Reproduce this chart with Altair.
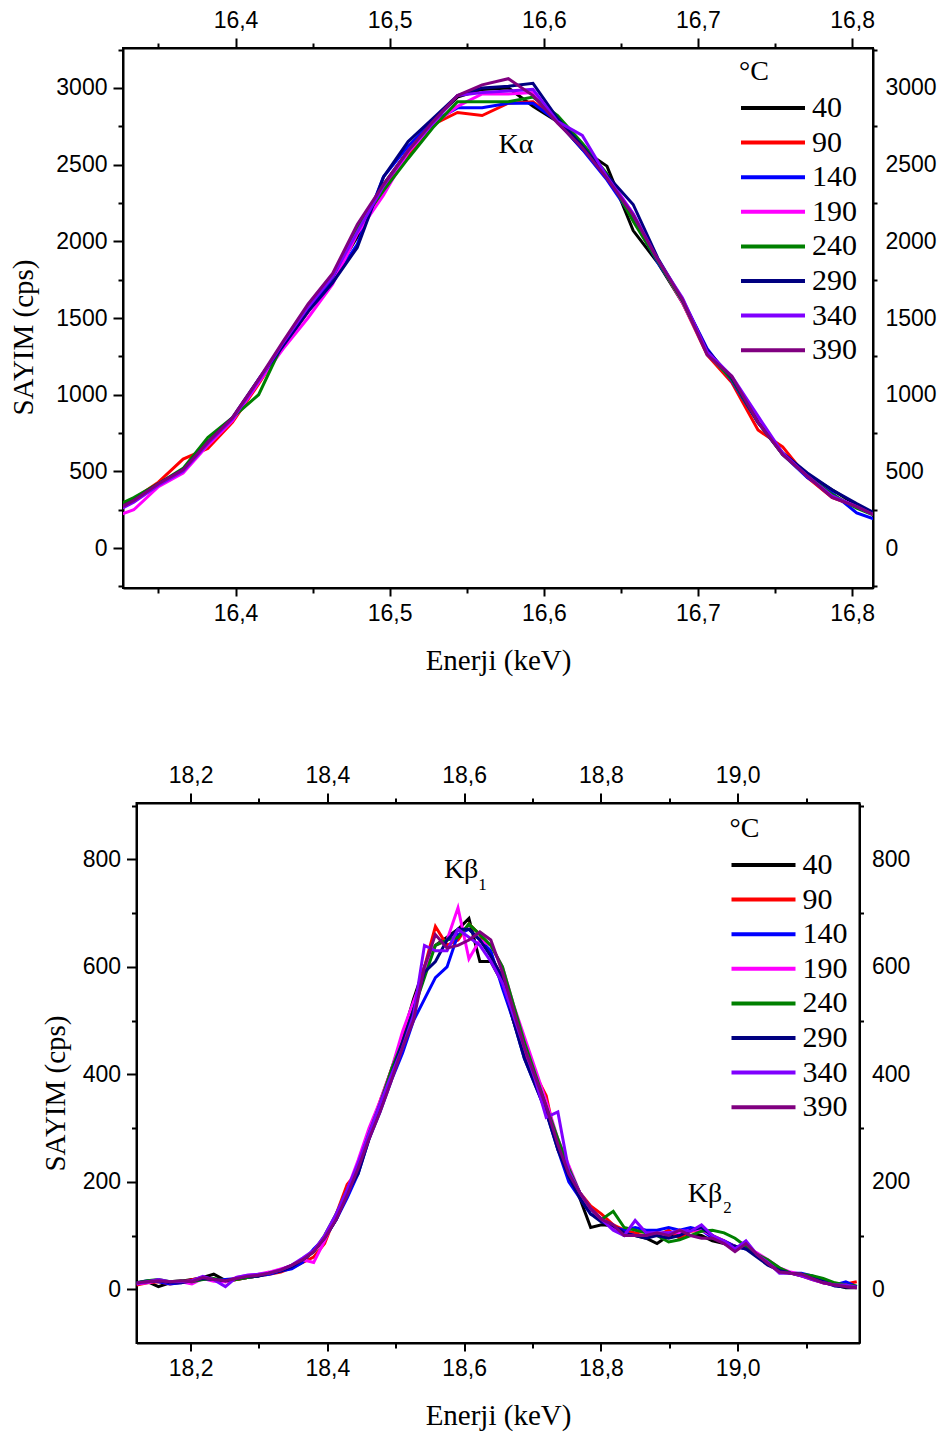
import altair as alt
import pandas as pd

TEMPS = ["40", "90", "140", "190", "240", "290", "340", "390"]
COLORS = ["#000000", "#FF0000", "#0000FF", "#FF00FF", "#008000", "#000080", "#8000FF", "#800080"]

# ---------------- K-alpha panel ----------------
KA_E = [16.317, 16.334, 16.350, 16.366, 16.382, 16.398, 16.415, 16.431, 16.447, 16.463,
        16.479, 16.496, 16.512, 16.528, 16.544, 16.560, 16.577, 16.593, 16.609, 16.625,
        16.641, 16.658, 16.674, 16.690, 16.706, 16.722, 16.739, 16.755, 16.771, 16.787,
        16.803, 16.820]
KA_40 = [210, 320, 420, 510, 690, 840, 1090, 1330, 1550, 1760, 2030, 2370, 2590, 2780, 2940, 2990, 3000, 2880, 2780, 2600,
         2490, 2070, 1860, 1600, 1280, 1090, 830, 610, 480, 380, 280, 200]
KA_90 = [220, 320, 430, 580, 650, 820, 1070, 1320, 1540, 1780, 2060, 2340, 2560, 2760, 2840, 2820, 2900, 2910, 2790, 2610,
         2420, 2170, 1880, 1600, 1260, 1080, 770, 660, 460, 330, 270, 200]
KA_140 = [220, 310, 410, 500, 690, 840, 1100, 1330, 1560, 1740, 1980, 2420, 2620, 2780, 2870, 2870, 2900, 2900, 2780, 2600,
          2400, 2150, 1860, 1620, 1300, 1090, 820, 610, 460, 360, 230, 170]
KA_190 = [190, 250, 400, 490, 670, 830, 1080, 1300, 1500, 1720, 2050, 2300, 2580, 2760, 2880, 2960, 2960, 2970, 2790, 2630,
          2430, 2180, 1880, 1600, 1270, 1100, 830, 610, 470, 340, 270, 190]
KA_240 = [250, 330, 420, 520, 720, 850, 1000, 1340, 1580, 1770, 2090, 2330, 2540, 2740, 2910, 2910, 2910, 2940, 2820, 2640,
          2440, 2130, 1870, 1610, 1270, 1100, 820, 610, 470, 350, 260, 190]
KA_290 = [220, 310, 420, 510, 690, 850, 1100, 1320, 1540, 1730, 1960, 2420, 2650, 2800, 2950, 3000, 3010, 3030, 2800, 2620,
          2430, 2240, 1890, 1620, 1290, 1110, 820, 620, 490, 380, 290, 200]
KA_340 = [210, 300, 410, 500, 680, 840, 1090, 1340, 1570, 1770, 2060, 2360, 2590, 2770, 2950, 2970, 2980, 2990, 2780, 2690,
          2420, 2180, 1880, 1630, 1280, 1120, 860, 620, 470, 340, 270, 190]
KA_390 = [220, 310, 420, 510, 690, 850, 1100, 1350, 1590, 1790, 2110, 2370, 2590, 2780, 2950, 3020, 3060, 2950, 2770, 2610,
          2410, 2170, 1880, 1620, 1260, 1120, 820, 610, 470, 330, 270, 190]
KA_SERIES = [KA_40, KA_90, KA_140, KA_190, KA_240, KA_290, KA_340, KA_390]

# ---------------- K-beta panel ----------------
KB_E = [18.121, 18.137, 18.153, 18.170, 18.186, 18.202, 18.218, 18.234, 18.251, 18.267,
        18.283, 18.299, 18.315, 18.332, 18.348, 18.364, 18.380, 18.396, 18.413, 18.429,
        18.445, 18.461, 18.477, 18.494, 18.510, 18.526, 18.542, 18.558, 18.575, 18.591,
        18.607, 18.623, 18.639, 18.656, 18.672, 18.688, 18.704, 18.720, 18.737, 18.753,
        18.769, 18.785, 18.801, 18.818, 18.834, 18.850, 18.866, 18.882, 18.899, 18.915,
        18.931, 18.947, 18.963, 18.980, 18.996, 19.012, 19.028, 19.044, 19.061, 19.077,
        19.093, 19.109, 19.125, 19.142, 19.158, 19.174]
KB_40 = [10, 14, 5, 12, 15, 18, 22, 28, 16, 18,
         22, 25, 30, 36, 44, 55, 70, 95, 130, 175,
         220, 290, 345, 410, 470, 540, 600, 640, 655, 670,
         690, 610, 610, 570, 500, 440, 390, 330, 270, 220,
         170, 115, 120, 118, 100, 100, 95, 85, 100, 105,
         100, 100, 90, 85, 80, 78, 65, 50, 35, 30,
         25, 20, 15, 8, 3, 3]
KB_90 = [8, 12, 14, 10, 13, 18, 22, 18, 14, 18,
         22, 25, 28, 32, 40, 50, 60, 85, 140, 195,
         220, 290, 350, 410, 470, 530, 600, 675, 640, 650,
         680, 660, 620, 580, 500, 440, 400, 360, 260, 220,
         180, 155, 140, 120, 110, 105, 108, 100, 110, 95,
         108, 110, 100, 90, 80, 78, 65, 50, 35, 30,
         25, 18, 12, 8, 10, 14]
KB_140 = [12, 16, 14, 10, 12, 15, 20, 18, 18, 20,
          22, 25, 28, 34, 38, 50, 75, 95, 130, 170,
          215, 280, 330, 390, 440, 500, 540, 580, 600, 660,
          670, 650, 630, 560, 500, 430, 380, 330, 260, 200,
          170, 140, 130, 115, 110, 115, 110, 110, 115, 110,
          115, 110, 95, 90, 80, 75, 65, 50, 35, 30,
          30, 25, 15, 8, 14, 5]
KB_190 = [10, 12, 16, 12, 14, 10, 20, 15, 14, 22,
          26, 28, 32, 38, 44, 55, 50, 90, 140, 185,
          240, 300, 350, 410, 480, 535, 590, 640, 650, 710,
          615, 650, 640, 600, 530, 470, 410, 350, 280, 230,
          180, 150, 130, 115, 105, 100, 100, 100, 105, 105,
          110, 110, 100, 85, 80, 78, 68, 55, 40, 32,
          28, 20, 12, 8, 5, 3]
KB_240 = [12, 16, 18, 14, 16, 14, 18, 20, 16, 18,
          22, 25, 30, 35, 44, 55, 70, 100, 140, 185,
          230, 290, 345, 410, 460, 520, 580, 640, 650, 655,
          680, 660, 640, 600, 530, 460, 400, 340, 280, 225,
          180, 150, 130, 145, 115, 110, 105, 100, 88, 92,
          100, 108, 110, 105, 95, 80, 65, 55, 40, 30,
          28, 25, 20, 12, 8, 6]
KB_290 = [12, 14, 16, 12, 12, 16, 20, 18, 16, 20,
          24, 24, 30, 34, 42, 55, 72, 95, 130, 180,
          215, 280, 340, 400, 460, 520, 590, 610, 650, 670,
          670, 650, 620, 580, 500, 430, 380, 330, 260, 210,
          170, 140, 125, 118, 105, 100, 95, 100, 95, 100,
          110, 115, 100, 85, 80, 75, 60, 45, 35, 30,
          28, 20, 14, 6, 4, 4]
KB_340 = [10, 14, 18, 14, 14, 16, 24, 18, 5, 22,
          26, 28, 30, 36, 45, 58, 72, 100, 140, 185,
          235, 290, 345, 400, 450, 510, 640, 630, 630, 670,
          655, 640, 610, 570, 510, 450, 390, 320, 330, 220,
          180, 150, 130, 110, 100, 128, 105, 105, 105, 110,
          108, 120, 100, 90, 75, 90, 65, 50, 30, 30,
          25, 18, 12, 8, 8, 4]
KB_390 = [12, 14, 16, 14, 16, 14, 22, 18, 16, 20,
          24, 26, 30, 36, 45, 55, 70, 95, 130, 175,
          225, 280, 330, 390, 450, 500, 600, 660, 635, 640,
          650, 665, 650, 590, 520, 450, 395, 340, 270, 215,
          180, 150, 130, 120, 100, 100, 100, 105, 100, 110,
          100, 95, 95, 85, 70, 85, 65, 48, 32, 30,
          28, 20, 12, 8, 5, 3]
KB_SERIES = [KB_40, KB_90, KB_140, KB_190, KB_240, KB_290, KB_340, KB_390]

# tick values
KA_XTICKS = [16.35, 16.4, 16.45, 16.5, 16.55, 16.6, 16.65, 16.7, 16.75, 16.8]
KA_YTICKS = [-250, 0, 250, 500, 750, 1000, 1250, 1500, 1750, 2000, 2250, 2500, 2750, 3000, 3250]
KB_XTICKS = [18.2, 18.3, 18.4, 18.5, 18.6, 18.7, 18.8, 18.9, 19.0, 19.1]
KB_YTICKS = [0, 100, 200, 300, 400, 500, 600, 700, 800, 900]

# annotations
KA_ANN = {"E": [16.582], "C": [2629], "t": ["Kα"]}
KA_SUB = {"E": [], "C": [], "t": []}
KB_ANN = {"E": [18.5956, 18.952], "C": [781, 177], "t": ["Kβ", "Kβ"]}
KB_SUB = {"E": [18.627, 18.985], "C": [752, 152], "t": ["1", "2"]}


def long_df(energies, series):
    rows = []
    for t, vals in zip(TEMPS, series):
        for e, v in zip(energies, vals):
            rows.append({"E": e, "C": v, "T": t})
    return pd.DataFrame(rows)


SERIF = "Liberation Serif"
SANS = "Liberation Sans"


def panel(df, ann, sub, xdom, ydom, xvals, xstep, yvals, ystep, w, h, lx, ly, ytitlepad, ytitle_y):
    xs = alt.Scale(domain=xdom, nice=False, zero=False)
    ys = alt.Scale(domain=ydom, nice=False, zero=False)
    xtest = f"abs(datum.value/{xstep} - round(datum.value/{xstep})) < 0.001"
    ytest = f"datum.value % {ystep} == 0"
    xlab = f"({xtest}) ? replace(format(datum.value, '.1f'), '.', ',') : ''"
    ylab = f"({ytest}) ? format(datum.value, 'd') : ''"

    def xaxis(orient, title, big, small, pad):
        return alt.Axis(orient=orient, values=xvals, labelExpr=xlab,
                        tickSize={"condition": {"test": xtest, "value": big}, "value": small},
                        grid=False, labelOverlap=False, labelFlush=False, labelPadding=pad,
                        titlePadding=21, title=title if title else None)

    def yaxis(orient, title, big, small, pad):
        kw = dict(orient=orient, values=yvals, labelExpr=ylab,
                  tickSize={"condition": {"test": ytest, "value": big}, "value": small},
                  grid=False, labelOverlap=False, labelFlush=False, labelPadding=pad,
                  titlePadding=ytitlepad, title=title if title else None)
        if title:
            kw["titleY"] = ytitle_y
        return alt.Axis(**kw)

    lines = alt.Chart(df).mark_line(strokeWidth=3, clip=True).encode(
        x=alt.X("E:Q", scale=xs, axis=xaxis("bottom", "Enerji (keV)", 8, 5, 6)),
        y=alt.Y("C:Q", scale=ys, axis=yaxis("left", "SAYIM (cps)", 10, 5, 6)),
        color=alt.Color(
            "T:N", sort=TEMPS,
            scale=alt.Scale(domain=TEMPS, range=COLORS),
            legend=alt.Legend(
                title="°C", orient="none", legendX=lx, legendY=ly,
                symbolType="stroke", symbolSize=4096, symbolStrokeWidth=4,
                clipHeight=30, rowPadding=4.6, labelOffset=5,
                labelFont=SERIF, labelFontSize=30, labelColor="black",
                titleFont=SERIF, titleFontSize=28, titleFontWeight="normal",
                titleColor="black", titlePadding=7, padding=0,
            ),
        ),
    )
    mirror = alt.Chart(df).mark_point(opacity=0, clip=True).encode(
        x=alt.X("E:Q", scale=xs, axis=xaxis("top", None, 10, 5, 6)),
        y=alt.Y("C:Q", scale=ys, axis=yaxis("right", None, 0, 4, 12)),
    )
    layers = [lines, mirror]
    if ann["E"]:
        layers.append(alt.Chart(pd.DataFrame(ann)).mark_text(
            font=SERIF, fontSize=28, align="center", baseline="middle", color="black"
        ).encode(x=alt.X("E:Q", scale=xs, axis=None), y=alt.Y("C:Q", scale=ys, axis=None), text="t:N"))
    if sub["E"]:
        layers.append(alt.Chart(pd.DataFrame(sub)).mark_text(
            font=SERIF, fontSize=17, align="center", baseline="middle", color="black"
        ).encode(x=alt.X("E:Q", scale=xs, axis=None), y=alt.Y("C:Q", scale=ys, axis=None), text="t:N"))
    return alt.layer(*layers).resolve_axis(x="independent", y="independent").properties(width=w, height=h)


top = panel(long_df(KA_E, KA_SERIES), KA_ANN, KA_SUB, [16.327, 16.8136], [-260, 3260],
            KA_XTICKS, 0.1, KA_YTICKS, 500, 750, 540, 616, 10, 17, 289)
bottom = panel(long_df(KB_E, KB_SERIES), KB_ANN, KB_SUB, [18.121, 19.178], [-100, 905],
               KB_XTICKS, 0.2, KB_YTICKS, 200, 723, 540, 593, 12, 12, 290)

chart = alt.vconcat(top, bottom, center=True, bounds="flush", spacing=215).resolve_scale(
    color="independent"
).properties(
    padding={"left": 8, "top": 8, "right": 5, "bottom": 5}
).configure(background="white").configure_view(stroke="black", strokeWidth=2).configure_axis(
    domainColor="black", domainWidth=2, tickColor="black", tickWidth=2,
    labelFont=SANS, labelFontSize=23, labelColor="black",
    titleFont=SERIF, titleFontSize=29, titleFontWeight="normal", titleColor="black",
)

chart.save("out.html", embed_options={"renderer": "svg", "actions": False})
